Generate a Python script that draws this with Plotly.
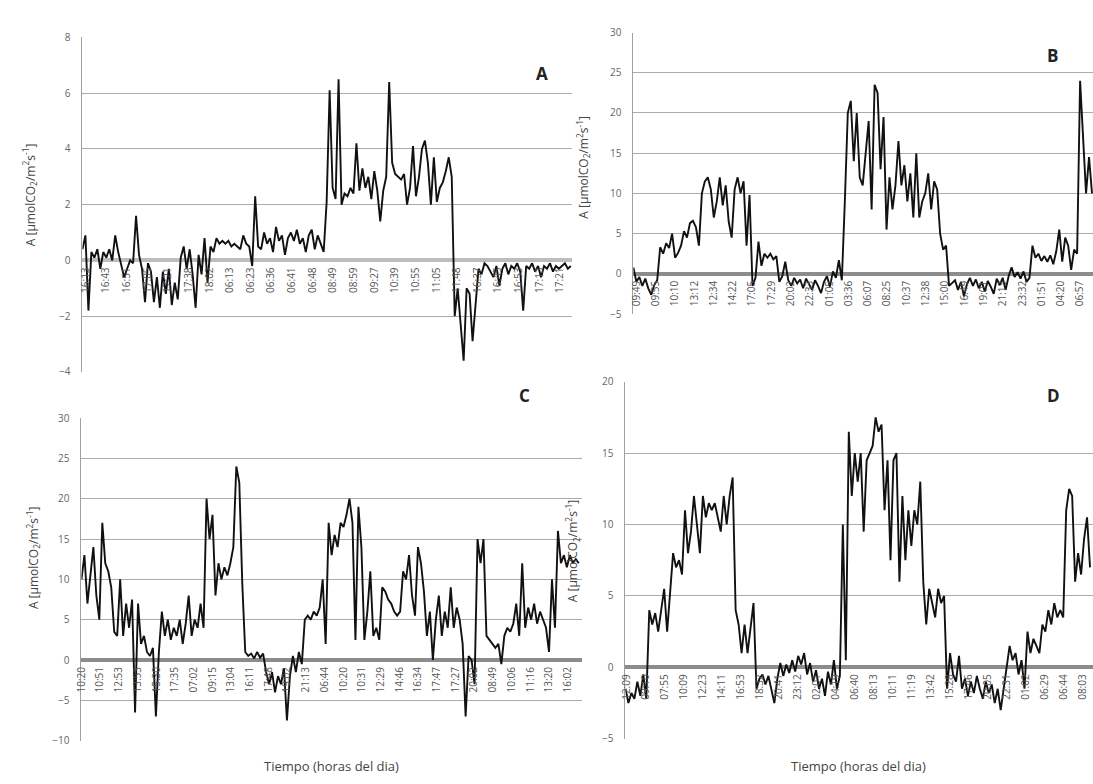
import plotly.graph_objects as go

W, H = 1093, 784

# ---------------- data ----------------
a_vals = [0.4, 0.9, -1.8, 0.3, 0.1, 0.4, -0.3, 0.3, 0.1, 0.4, 0.0, 0.9, 0.3, -0.2, -0.6, -0.3,
          0.0, -0.1, 1.6, 0.2, -0.3, -1.5, -0.1, -0.4, -1.5, -0.6, -1.7, -0.4, -1.2, -0.3, -1.6,
          -0.8, -1.4, 0.1, 0.5, -0.3, 0.4, -0.5, -1.7, 0.2, -0.5, 0.8, -0.8, 0.5, 0.3, 0.8, 0.6,
          0.7, 0.6, 0.7, 0.5, 0.6, 0.5, 0.4, 0.9, 0.6, 0.5, -0.2, 2.3, 0.5, 0.4, 1.0, 0.6, 0.8,
          0.3, 1.2, 0.7, 0.9, 0.2, 0.8, 1.0, 0.7, 1.1, 0.6, 0.8, 0.3, 0.9, 1.1, 0.4, 0.9, 0.6,
          0.3, 2.1, 6.1, 2.6, 2.2, 6.5, 2.0, 2.4, 2.3, 2.6, 2.4, 4.2, 2.5, 3.3, 2.6, 3.0, 2.2,
          3.2, 2.5, 1.4, 2.5, 3.0, 6.4, 3.5, 3.1, 3.0, 2.9, 3.1, 2.0, 2.6, 4.1, 2.3, 3.0, 4.0,
          4.3, 3.5, 2.0, 3.7, 2.1, 2.6, 2.8, 3.2, 3.7, 3.0, -2.0, -1.0, -2.4, -3.6, -1.0, -1.2,
          -2.9, -1.5, -0.3, -0.5, -0.1, -0.2, -0.4, -0.6, -0.2, -0.9, -0.3, -0.1, -0.5, -0.2,
          -0.3, -0.1, -0.4, -1.8, -0.2, -0.3, -0.1, -0.4, -0.2, -0.6, -0.2, -0.3, -0.1, -0.4,
          -0.2, -0.3, -0.2, -0.1, -0.3, -0.2]

b_vals = [0.8, -1.0, -0.4, -1.5, -0.6, -1.8, -2.6, -1.4, -0.8, 3.3, 2.5, 3.8, 3.2, 5.0, 2.0,
          2.6, 3.5, 5.3, 4.5, 6.3, 6.6, 5.8, 3.5, 10.0, 11.5, 12.0, 10.5, 7.0, 9.0, 12.0, 8.5,
          11.0, 6.5, 4.5, 10.5, 12.0, 10.0, 11.5, 3.5, 9.8, -1.5, -0.5, 4.0, 1.0, 2.5, 2.0, 2.5,
          1.8, 2.2, -1.0, -0.3, 1.5, -0.8, -1.5, -0.5, -1.2, -0.7, -1.8, -0.6, -1.3, -2.0, -0.8,
          -1.5, -2.4, -1.0, -0.3, -1.6, 0.3, -0.5, 1.7, -0.8, 9.0, 20.0, 21.5, 14.0, 20.0, 12.0,
          11.0, 15.0, 19.0, 8.0, 23.5, 22.5, 13.0, 19.5, 5.5, 12.0, 8.0, 11.0, 16.5, 11.0, 13.5,
          9.0, 12.5, 7.0, 15.0, 7.0, 9.0, 10.0, 12.5, 8.0, 11.5, 10.5, 5.0, 3.0, 3.5, -1.5, -1.2,
          -0.8, -2.0, -1.0, -2.8, -1.3, -0.5, -1.5, -0.7, -1.8, -1.0, -2.2, -0.9, -1.6, -2.5,
          -0.6, -1.4, -0.5, -2.0, -0.3, 0.8, -0.4, 0.2, -0.6, 0.3, -1.0, -0.5, 3.5, 2.0, 2.5,
          1.6, 2.2, 1.5, 2.3, 1.2, 2.8, 5.5, 1.5, 4.5, 3.5, 0.5, 3.0, 2.5, 24.0, 17.0, 10.0,
          14.5, 10.0]

c_vals = [10, 13, 7, 11, 14, 8, 5, 17, 12, 11, 9, 3.5, 3, 10, 3, 7, 4, 7.5, -6.5, 7, 2, 3, 1,
          0.5, 1.5, -7, 1, 6, 3, 5, 2.5, 4, 3, 5, 2, 4.5, 8, 3, 5, 4, 7, 4, 20, 15, 18, 8, 12,
          10, 11.5, 10.5, 12, 14, 24, 22, 9.5, 1, 0.5, 0.8, 0.2, 1.0, 0.3, 0.8, -1.5, -3, -1.5,
          -4, -2, -3, -1, -7.5, -2, 0.5, -1.5, 1, -0.5, 5, 5.5, 5, 6, 5.5, 6.5, 10, 2, 17, 13,
          15.5, 14, 17, 16.5, 18, 20, 17, 2.5, 19, 14, 2.5, 6, 11, 3, 4, 2.5, 9, 8.5, 7.5, 7, 6,
          5.5, 6, 11, 10, 13, 8, 5.5, 14, 12, 8.5, 3, 6, 0, 5, 8, 3, 6, 4, 9, 4, 6.5, 5, 2, -7,
          0.5, 0, -3, 15, 12, 15, 3, 2.5, 2, 1.5, 2, -0.5, 3, 4, 3.5, 4.5, 7, 3, 12, 4, 6.5, 5,
          7, 4.5, 6, 5, 4, 1, 10, 4, 16, 12, 13, 11.5, 13, 12, 12.5, 12]

d_vals = [-1.5, -2.5, -1.8, -2.2, -1.0, -2.0, -0.5, -2.2, 4.0, 3.0, 3.8, 2.5, 4.0, 5.5, 2.5,
          5.5, 8.0, 7.0, 7.5, 6.5, 11.0, 8.0, 9.5, 12.0, 10.0, 8.0, 12.0, 10.5, 11.5, 11.0, 11.5,
          10.5, 9.5, 12.0, 10.0, 12.0, 13.3, 4.0, 3.0, 1.0, 3.0, 1.0, 3.0, 4.5, -1.5, -0.8, -0.5,
          -1.2, -0.6, -1.5, -2.5, -0.8, 0.3, -0.6, 0.2, -0.4, 0.5, -0.3, 0.8, 0.2, 1.0, -0.5,
          0.3, -1.0, -0.2, -1.5, -0.8, -2.0, -0.3, -1.2, 0.5, -1.5, -0.6, 10.0, 0.5, 16.5, 12.0,
          15.0, 13.0, 15.0, 9.5, 14.5, 15.0, 15.5, 17.5, 16.5, 17.0, 11.0, 14.5, 7.5, 14.5, 15.0,
          6.0, 12.0, 7.5, 11.0, 8.5, 11.0, 10.0, 13.0, 6.0, 3.0, 5.5, 4.5, 3.5, 5.5, 4.5, 5.0,
          -1.5, 1.0, -0.5, -1.0, 0.8, -1.5, -0.8, -2.0, -1.0, -1.8, -0.6, -1.5, -2.2, -1.0, -1.8,
          -1.2, -2.5, -1.5, -3.0, -1.5, 0.0, 1.5, 0.5, 1.0, -0.5, 0.5, -1.5, 2.5, 1.0, 2.0, 1.5,
          1.0, 3.0, 2.5, 4.0, 3.0, 4.5, 3.5, 4.0, 3.5, 11.0, 12.5, 12.0, 6.0, 8.0, 6.5, 9.0,
          10.5, 7.0]

a_labels = ["16:13", "16:43", "16:51", "17:05", "17:21", "17:38", "18:02", "06:13", "06:23",
            "06:36", "06:41", "06:48", "08:49", "08:59", "09:27", "10:39", "10:55", "11:05",
            "11:48", "16:37", "16:45", "16:53", "17:13", "17:21"]
b_labels = ["09:49", "09:55", "10:10", "13:12", "12:34", "14:22", "17:05", "17:29", "20:02",
            "22:33", "01:05", "03:36", "06:07", "08:25", "10:37", "12:38", "15:00", "16:49",
            "19:01", "21:13", "23:32", "01:51", "04:20", "06:57"]
c_labels = ["10:20", "10:51", "12:53", "13:53", "15:30", "17:35", "07:02", "09:15", "13:04",
            "16:11", "17:48", "19:02", "21:13", "06:44", "10:20", "10:31", "12:29", "14:46",
            "16:34", "17:47", "17:27", "20:02", "08:49", "10:06", "11:16", "13:20", "16:02"]
d_labels = ["12:09", "09:10", "07:55", "10:09", "12:23", "14:11", "16:53", "18:32", "20:41",
            "23:12", "02:01", "04:19", "06:40", "08:13", "10:11", "11:19", "13:42", "15:28",
            "17:46", "20:05", "22:31", "01:02", "06:29", "06:44", "08:03"]

panel_names = ["A", "B", "C", "D"]
y_title = "A [µmolCO<sub>2</sub>/m<sup>2</sup>s<sup>-1</sup>]"
x_title = "Tiempo (horas del dia)"

# ---------------- layout geometry ----------------
FONT = "'Open Sans', Lato, sans-serif"
panels = [
    dict(vals=a_vals, labels=a_labels, xpx=(75, 568), ypx=(30, 371), yr=(-4, 8), dtick=2,
         first=1.0, step=6.93, zl="#bdbdbd", letter=(538, 67), ytit=(22, 190), xtit=None),
    dict(vals=b_vals, labels=b_labels, xpx=(630, 1093), ypx=(25, 312), yr=(-5, 30), dtick=5,
         first=1.0, step=6.48, zl="#8c8c8c", letter=(1052, 48), ytit=(580, 162), xtit=None),
    dict(vals=c_vals, labels=c_labels, xpx=(74, 578), ypx=(418, 747), yr=(-10, 30), dtick=5,
         first=0.0, step=6.28, zl="#8c8c8c", letter=(520, 395), ytit=(25, 560), xtit=(326, 773)),
    dict(vals=d_vals, labels=d_labels, xpx=(622, 1093), ypx=(381, 745), yr=(-5, 20), dtick=5,
         first=0.3, step=6.39, zl="#8c8c8c", letter=(1053, 395), ytit=(569, 553), xtit=(857, 773)),
]

fig = go.Figure()
annotations = []
layout = {}
for k, p in enumerate(panels):
    sfx = "" if k == 0 else str(k + 1)
    xa, ya = "x" + sfx, "y" + sfx
    fig.add_trace(go.Scatter(x=list(range(len(p["vals"]))), y=p["vals"], mode="lines",
                             line=dict(color="#111111", width=1.9), xaxis=xa, yaxis=ya,
                             showlegend=False, hoverinfo="skip"))
    x0, x1 = p["xpx"]
    y0, y1 = p["ypx"]
    xdom = [x0 / W, x1 / W]
    ydom = [1 - y1 / H, 1 - y0 / H]
    ymin, ymax = p["yr"]
    pos0 = ydom[0] + (0 - ymin) / (ymax - ymin) * (ydom[1] - ydom[0])
    tickvals = [p["first"] + i * p["step"] for i in range(len(p["labels"]))]
    layout["xaxis" + sfx] = dict(
        domain=xdom, range=[0, (x1 - x0) / 3], anchor="free", position=pos0,
        tickmode="array", tickvals=tickvals, ticktext=p["labels"], tickangle=-90,
        tickfont=dict(size=10, color="#555555", family=FONT), ticklabelstandoff=4,
        showline=False, showgrid=False, zeroline=False, ticks="", fixedrange=True)
    layout["yaxis" + sfx] = dict(
        domain=ydom, range=[ymin, ymax], anchor=xa, tick0=0, dtick=p["dtick"],
        showgrid=True, gridcolor="#ababab", gridwidth=1,
        zeroline=True, zerolinecolor=p["zl"], zerolinewidth=4,
        showline=True, linecolor="#a0a0a0", linewidth=1, ticks="",
        tickfont=dict(size=10, color="#666666", family=FONT), ticklabelstandoff=9,
        fixedrange=True)
    lx, ly = p["letter"]
    annotations.append(dict(text="<b>%s</b>" % panel_names[k], x=lx / W, y=1 - ly / H,
                            xref="paper", yref="paper", showarrow=False,
                            xanchor="center", yanchor="middle",
                            font=dict(size=17, color="#222222", family=FONT)))
    tx, ty = p["ytit"]
    annotations.append(dict(text=y_title, x=tx / W, y=1 - ty / H, xref="paper", yref="paper",
                            showarrow=False, textangle=-90, xanchor="center", yanchor="middle",
                            font=dict(size=12, color="#444444", family=FONT)))
    if p["xtit"]:
        qx, qy = p["xtit"]
        annotations.append(dict(text=x_title, x=qx / W, y=1 - qy / H, xref="paper",
                                yref="paper", showarrow=False, xanchor="center",
                                yanchor="middle",
                                font=dict(size=13, color="#444444", family=FONT)))

fig.update_layout(width=W, height=H, margin=dict(l=0, r=0, t=0, b=0),
                  paper_bgcolor="white", plot_bgcolor="white",
                  annotations=annotations, **layout)
fig.write_html("out.html")
